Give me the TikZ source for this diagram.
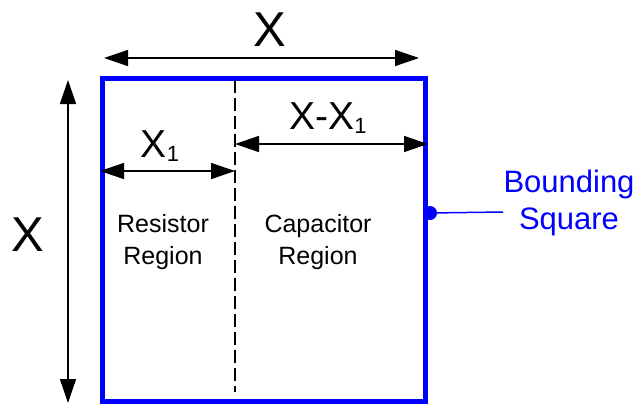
\documentclass[tikz,border=0pt]{standalone}
\usepackage{fontspec}
\setmainfont{Liberation Sans}
\usetikzlibrary{arrows.meta}
\begin{document}
\begin{tikzpicture}[x=1pt,y=-1pt,
  dim/.style={{Triangle[length=24pt,width=16pt]}-{Triangle[length=24pt,width=16pt]},line width=1.5pt},
  big/.style={font=\fontsize{49}{49}\selectfont,inner sep=0pt},
  mid/.style={font=\fontsize{39}{39}\selectfont,inner sep=0pt},
  region/.style={font=\fontsize{25}{32}\selectfont,align=center,inner sep=0pt},
  bluetext/.style={font=\fontsize{31}{37}\selectfont,align=center,inner sep=0pt,text=blue}]
  \useasboundingbox (0,0) rectangle (642,407);
  % bounding square
  \node[draw=blue,line width=5pt,minimum width=323pt,minimum height=323pt,inner sep=0pt] (box) at (263.5,239.5) {};
  \coordinate (divtop) at (235,80);
  \coordinate (divbot) at (235,392);
  \draw[line width=1.5pt,dash pattern=on 13pt off 5pt] (divtop) -- (divbot);
  % outer dimensions
  \coordinate (topl) at (104,58);
  \coordinate (topr) at (419,58);
  \draw[dim] (topl) -- (topr);
  \node[big] (xtop) at (270,30) {X};
  \coordinate (lft) at (68,80);
  \coordinate (lfb) at (68,403);
  \draw[dim] (lft) -- (lfb);
  \node[big] (xleft) at (28,235) {X};
  % inner dimensions
  \coordinate (xonel) at (100,171);
  \coordinate (xoner) at (235,171);
  \draw[dim] (xonel) -- (xoner);
  \node[mid] (xone) at (160,146) {X\raisebox{-4pt}{\fontsize{22}{22}\selectfont 1}};
  \coordinate (restl) at (235,144);
  \coordinate (restr) at (428,144);
  \draw[dim] (restl) -- (restr);
  \node[mid] (xrest) at (328,118) {X-X\raisebox{-4pt}{\fontsize{22}{22}\selectfont 1}};
  % regions
  \node[region] (res) at (163,242) {Resistor\\Region};
  \node[region] (cap) at (318,242) {Capacitor\\Region};
  % label
  \node[circle,fill=blue,inner sep=0pt,minimum size=14pt] (dot) at (430,213) {};
  \node[bluetext] (bound) at (569,203) {Bounding\\Square};
  \draw[blue,line width=1.5pt] (dot) -- (503,212);
\end{tikzpicture}
\end{document}
